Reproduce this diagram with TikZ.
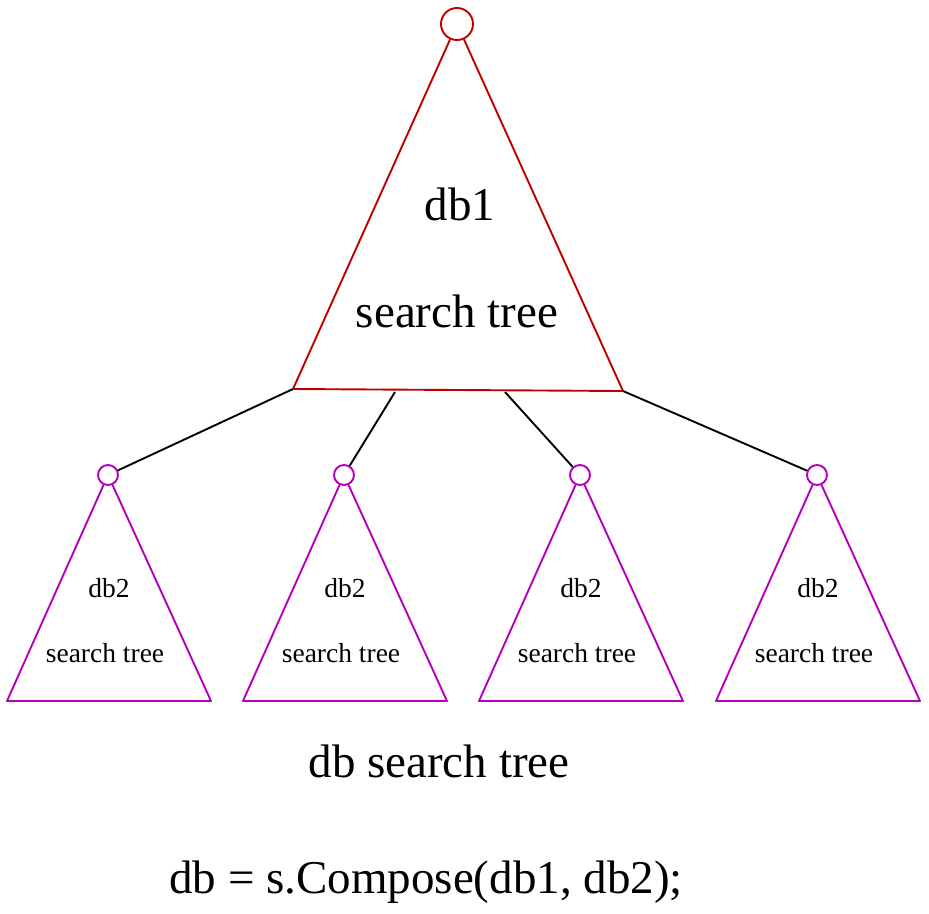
\documentclass[tikz,border=0pt]{standalone}
\usepackage{fontspec}
\setmainfont{Liberation Serif}
\usepackage{tikz}
\usetikzlibrary{positioning,calc}

\definecolor{treered}{RGB}{190,0,0}
\definecolor{treemag}{RGB}{180,0,190}

\tikzset{
  bigroot/.style={draw=treered,line width=1.9pt,circle,inner sep=0pt,minimum size=32pt},
  smallroot/.style={draw=treemag,line width=1.9pt,circle,inner sep=0pt,minimum size=20pt},
  bigtree/.style={draw=treered,line width=1.9pt,line join=round},
  smalltree/.style={draw=treemag,line width=1.9pt,line join=round},
  link/.style={draw=black,line width=1.9pt},
  bigtext/.style={anchor=base,font=\fontsize{47}{50}\selectfont},
  smalltext/.style={anchor=base,font=\fontsize{27.5}{30}\selectfont}
}

\begin{document}
\begin{tikzpicture}[x=1pt,y=-1pt]
  \useasboundingbox (0,0) rectangle (929,913);

  % db1 tree
  \node[bigroot] (root) at (457,24) {};
  \coordinate (bl) at (293,389);
  \coordinate (br) at (623,391);
  \draw[bigtree] (root) -- (bl) -- (br) -- (root);
  \node[bigtext] (db1) at (460,220) {db1};
  \node[bigtext] (st1) at (457,327) {search tree};

  % db2 trees
  \foreach \i/\x in {1/108,2/344,3/580,4/817}{
    \node[smallroot] (c\i) at (\x,475) {};
    \coordinate (l\i) at (\x-101,701);
    \coordinate (r\i) at (\x+103,701);
    \draw[smalltree] (c\i) -- (l\i) -- (r\i) -- (c\i);
    \node[smalltext] (db2\i) at (\x+1,597) {db2};
    \node[smalltext] (st2\i) at (\x-3,662) {search tree};
  }

  % links
  \coordinate (b2) at (395,392);
  \coordinate (b3) at (505,392);
  \draw[link] (bl) -- (c1);
  \draw[link] (b2) -- (c2);
  \draw[link] (b3) -- (c3);
  \draw[link] (br) -- (c4);

  \node[bigtext] (cap) at (439,777) {db search tree};
  \node[bigtext] (code) at (426,893) {db = s.Compose(db1, db2);};
\end{tikzpicture}
\end{document}
